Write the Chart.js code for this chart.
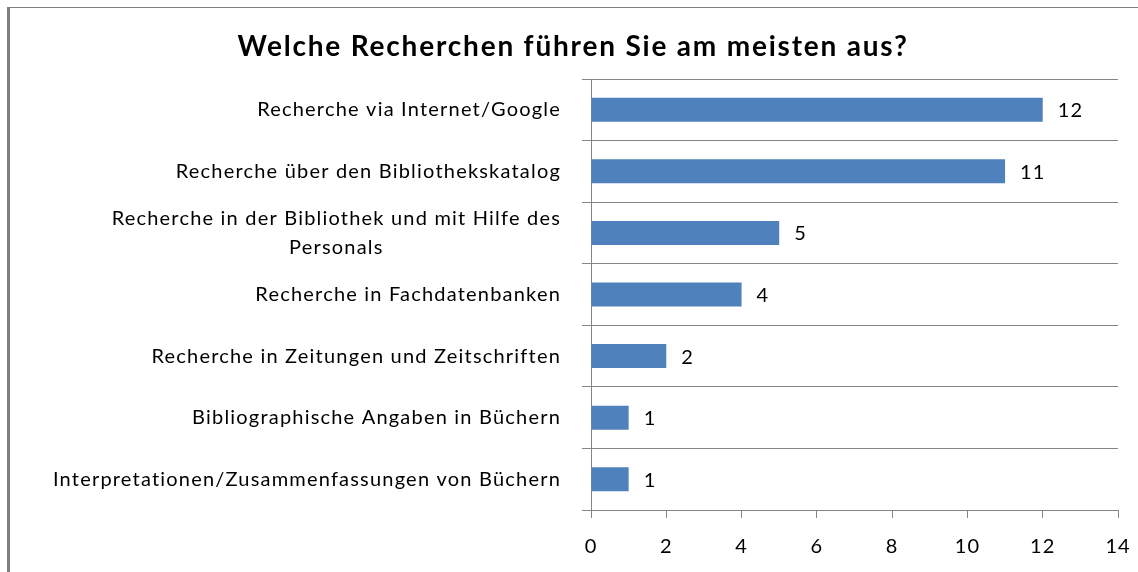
<!DOCTYPE html>
<html>
<head>
<meta charset="utf-8">
<script src="https://cdn.jsdelivr.net/npm/chart.js@4.4.0/dist/chart.umd.min.js"></script>
<style>
  html, body { margin: 0; padding: 0; background: #fff; }
  #wrap { position: relative; width: 1138px; height: 572px; overflow: hidden; }
  #frame {
    position: absolute; left: 7px; top: 7px; width: 1200px; height: 600px;
    border-left: 3px solid #7f7f7f; border-top: 1px solid #7f7f7f;
  }
  #chart { position: absolute; left: 0; top: 0; }
</style>
</head>
<body>
<div id="wrap">
  <div id="frame"></div>
  <canvas id="chart" width="1138" height="572"></canvas>
</div>
<script>
// Survey answers, top to bottom as shown
const categories = [
  ['Recherche via Internet/Google'],
  ['Recherche über den Bibliothekskatalog'],
  ['Recherche in der Bibliothek und mit Hilfe des', 'Personals'],
  ['Recherche in Fachdatenbanken'],
  ['Recherche in Zeitungen und Zeitschriften'],
  ['Bibliographische Angaben in Büchern'],
  ['Interpretationen/Zusammenfassungen von Büchern'],
];
const counts = [12, 11, 5, 4, 2, 1, 1];
const xTicks = [0, 2, 4, 6, 8, 10, 12, 14];
const titleText = 'Welche Recherchen führen Sie am meisten aus?';

const FONT = 'Lato, "Open Sans", sans-serif';
const GRID = '#868686';

// wider letter spacing, closer to the original office font
const spacingPlugin = {
  id: 'spacing',
  beforeDraw(chart) { chart.ctx.letterSpacing = '1px'; }
};

// title drawn by hand so it can get its own spacing
const titlePlugin = {
  id: 'titleText',
  afterDraw(chart) {
    const { ctx } = chart;
    ctx.save();
    ctx.letterSpacing = '1.8px';
    ctx.font = 'bold 28px ' + FONT;
    ctx.fillStyle = '#000';
    ctx.textAlign = 'center';
    ctx.textBaseline = 'middle';
    ctx.fillText(titleText, 573, 47);
    ctx.restore();
  }
};

// y labels: single lines right-aligned, wrapped labels centered on themselves
const yLabelPlugin = {
  id: 'yLabels',
  afterDraw(chart) {
    const { ctx } = chart;
    const yScale = chart.scales.y;
    const rightEdge = yScale.right - 30;
    const lineH = 29;
    ctx.save();
    ctx.letterSpacing = '1.2px';
    ctx.font = '20px ' + FONT;
    ctx.fillStyle = '#000';
    ctx.textAlign = 'center';
    ctx.textBaseline = 'middle';
    categories.forEach((lines, i) => {
      const y = yScale.getPixelForTick(i);
      const widest = Math.max(...lines.map(l => ctx.measureText(l).width));
      const cx = rightEdge - widest / 2;
      const y0 = y - (lines.length - 1) * lineH / 2;
      lines.forEach((l, j) => ctx.fillText(l, cx, y0 + j * lineH));
    });
    ctx.restore();
  }
};

// value labels right of each bar
const valueLabelPlugin = {
  id: 'valueLabels',
  afterDatasetsDraw(chart) {
    const { ctx } = chart;
    const meta = chart.getDatasetMeta(0);
    ctx.save();
    ctx.letterSpacing = '1.2px';
    ctx.font = '20px ' + FONT;
    ctx.fillStyle = '#000';
    ctx.textAlign = 'left';
    ctx.textBaseline = 'middle';
    meta.data.forEach((bar, i) => {
      ctx.fillText(String(counts[i]), bar.x + 15, bar.y + 1);
    });
    ctx.restore();
  }
};

new Chart(document.getElementById('chart'), {
  type: 'bar',
  data: {
    labels: categories,
    datasets: [{
      data: counts,
      backgroundColor: '#4F81BD',
      borderWidth: 0,
      categoryPercentage: 1,
      barPercentage: 0.39,
    }]
  },
  options: {
    indexAxis: 'y',
    responsive: false,
    animation: false,
    layout: { padding: { left: 0, right: 20, top: 79, bottom: 0 } },
    plugins: {
      legend: { display: false },
      tooltip: { enabled: false },
      title: { display: false },
    },
    scales: {
      x: {
        min: 0,
        max: 14,
        afterBuildTicks(scale) { scale.ticks = xTicks.map(v => ({ value: v })); },
        afterFit(scale) { scale.height = 62; scale.paddingRight = 0; scale.paddingLeft = 0; },
        grid: { drawOnChartArea: false, color: GRID, tickLength: 8 },
        border: { color: GRID },
        ticks: { color: '#000', padding: 17, font: { family: FONT, size: 20 } },
      },
      y: {
        afterFit(scale) { scale.width = 591; scale.paddingTop = 0; scale.paddingBottom = 0; },
        grid: { color: GRID, tickLength: 9, offset: true },
        border: { color: GRID },
        ticks: { color: 'rgba(0,0,0,0)', font: { family: FONT, size: 19 } },
      }
    }
  },
  plugins: [spacingPlugin, titlePlugin, yLabelPlugin, valueLabelPlugin]
});
</script>
</body>
</html>
